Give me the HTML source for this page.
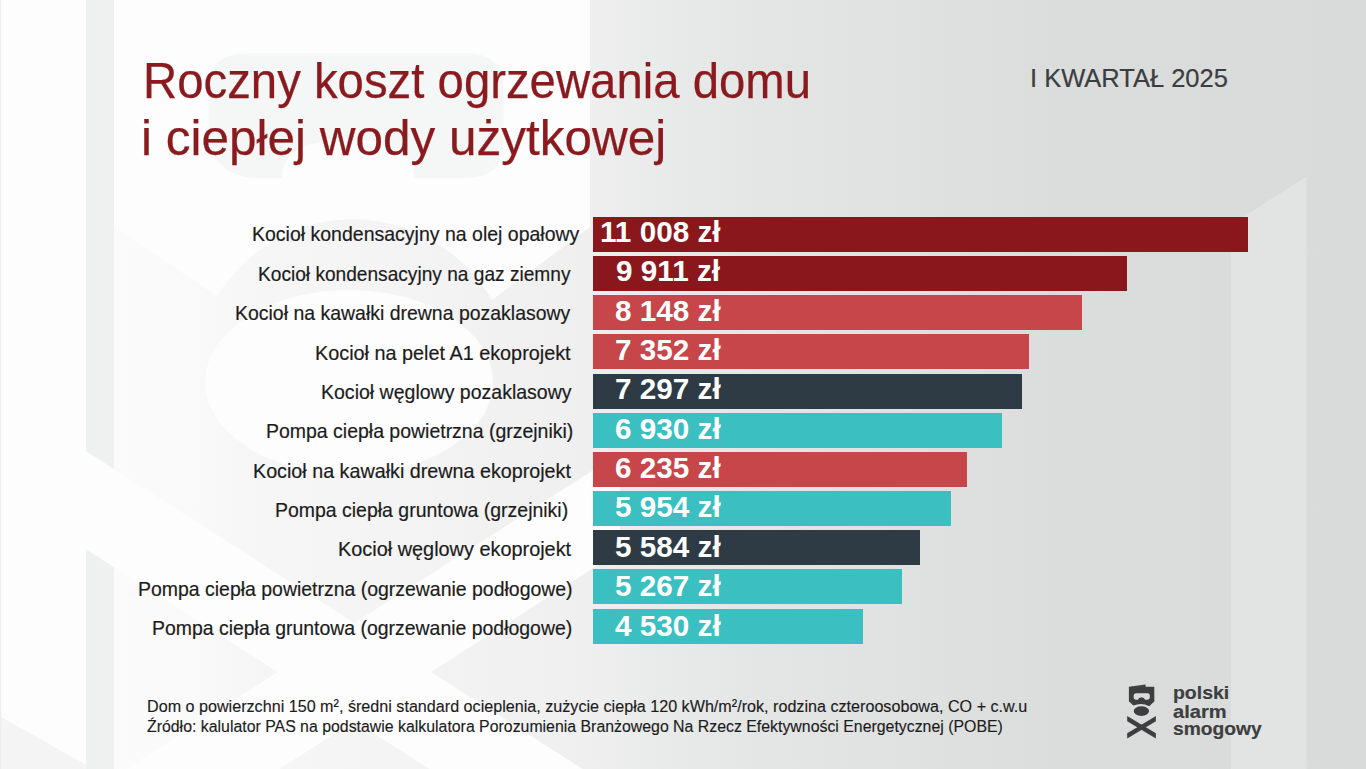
<!DOCTYPE html>
<html><head><meta charset="utf-8">
<style>
html,body{margin:0;padding:0;}
body{width:1366px;height:769px;position:relative;overflow:hidden;font-family:"Liberation Sans",sans-serif;background:#fdfdfd;}
.a{position:absolute;white-space:nowrap;line-height:1;transform-origin:0 0;}
.b{position:absolute;left:593px;height:35px;}
</style></head><body>
<svg style="position:absolute;left:0;top:0" width="1366" height="769">
<defs><linearGradient id="g1" x1="0" x2="1366" y1="0" y2="0" gradientUnits="userSpaceOnUse"><stop offset="0.0000" stop-color="#fbfbfb"/><stop offset="0.0835" stop-color="#fbfbfb"/><stop offset="0.1464" stop-color="#f9f9f9"/><stop offset="0.1903" stop-color="#f6f6f6"/><stop offset="0.2928" stop-color="#f4f4f4"/><stop offset="0.4319" stop-color="#efefef"/><stop offset="0.4832" stop-color="#e9eaea"/><stop offset="0.5600" stop-color="#e4e5e5"/><stop offset="0.7796" stop-color="#dbdcdc"/><stop offset="1.0000" stop-color="#d9dada"/></linearGradient></defs>
<rect x="0" y="0" width="1366" height="769" fill="url(#g1)"/>
<rect x="0" y="0" width="86" height="769" fill="#f4f4f4"/>
<rect x="86" y="0" width="28" height="769" fill="#eff0f0"/>
<polygon points="0,0 86,0 86,764.7 0,716.4" fill="#fdfdfd"/>
<path d="M114,-10 L590,-10 L590,227 L492,300 A163 170 0 0 0 217,296 L114,226.6 Z" fill="#fdfdfd"/>
<path d="M246,53.6 L467,53.6 Q503.6,53.6 503.6,90 L503.6,140 Q503.6,178 466,178 L414,178 Q414,140 348,140 Q282,140 282,178 L260,178 Q208.7,178 208.7,127 L208.7,90 Q208.7,53.6 246,53.6 Z" fill="#f5f6f6"/>
<ellipse cx="349" cy="382" rx="144" ry="92" fill="#fdfdfd"/>
<polygon points="86,451.2 620,792.9 620,890.9 86,549.2" fill="#fdfdfd"/>
<polygon points="86,794.8 620,453 620,551 86,892.8" fill="#fdfdfd"/>
<polygon points="1231,225 1306.5,176.4 1306.5,769 1231,769" fill="#e2e3e3"/>
<rect x="0" y="0" width="1.2" height="769" fill="#eeeeee"/>
</svg>
<div class="b" style="top:216.90px;width:655.0px;background:#8a171b"></div>
<div class="b" style="top:256.06px;width:534.0px;background:#8a171b"></div>
<div class="b" style="top:295.22px;width:489.0px;background:#c64649"></div>
<div class="b" style="top:334.38px;width:436.0px;background:#c64649"></div>
<div class="b" style="top:373.54px;width:429.0px;background:#2e3a44"></div>
<div class="b" style="top:412.70px;width:408.5px;background:#3bbfc0"></div>
<div class="b" style="top:451.86px;width:374.0px;background:#c64649"></div>
<div class="b" style="top:491.02px;width:357.5px;background:#3bbfc0"></div>
<div class="b" style="top:530.18px;width:327.4px;background:#2e3a44"></div>
<div class="b" style="top:569.34px;width:309.2px;background:#3bbfc0"></div>
<div class="b" style="top:608.50px;width:270.0px;background:#3bbfc0"></div>
<div class="a" style="left:142.60px;top:55.70px;font-size:50.03px;font-weight:400;transform:scaleX(0.9462);color:#8b1a1f;-webkit-text-stroke:0.25px #8b1a1f">Roczny koszt ogrzewania domu</div>
<div class="a" style="left:141.40px;top:113.40px;font-size:50.03px;font-weight:400;transform:scaleX(0.9891);color:#8b1a1f;-webkit-text-stroke:0.25px #8b1a1f">i ciepłej wody użytkowej</div>
<div class="a" style="left:1030.10px;top:66.25px;font-size:25.30px;font-weight:400;transform:scaleX(1.0078);color:#3b3d40;-webkit-text-stroke:0.2px #3b3d40">I KWARTAŁ 2025</div>
<div class="a" style="left:251.55px;top:224.40px;font-size:20.97px;font-weight:400;transform:scaleX(0.9299);color:#1c1c1c;-webkit-text-stroke:0.2px #1c1c1c">Kocioł kondensacyjny na olej opałowy</div>
<div class="a" style="left:258.40px;top:264.33px;font-size:20.97px;font-weight:400;transform:scaleX(0.9118);color:#1c1c1c;-webkit-text-stroke:0.2px #1c1c1c">Kocioł kondensacyjny na gaz ziemny</div>
<div class="a" style="left:235.20px;top:303.26px;font-size:20.97px;font-weight:400;transform:scaleX(0.9281);color:#1c1c1c;-webkit-text-stroke:0.2px #1c1c1c">Kocioł na kawałki drewna pozaklasowy</div>
<div class="a" style="left:315.40px;top:343.19px;font-size:20.97px;font-weight:400;transform:scaleX(0.9451);color:#1c1c1c;-webkit-text-stroke:0.2px #1c1c1c">Kocioł na pelet A1 ekoprojekt</div>
<div class="a" style="left:320.50px;top:382.12px;font-size:20.97px;font-weight:400;transform:scaleX(0.9307);color:#1c1c1c;-webkit-text-stroke:0.2px #1c1c1c">Kocioł węglowy pozaklasowy</div>
<div class="a" style="left:265.50px;top:421.05px;font-size:20.97px;font-weight:400;transform:scaleX(0.9284);color:#1c1c1c;-webkit-text-stroke:0.2px #1c1c1c">Pompa ciepła powietrzna (grzejniki)</div>
<div class="a" style="left:253.00px;top:460.98px;font-size:20.97px;font-weight:400;transform:scaleX(0.9405);color:#1c1c1c;-webkit-text-stroke:0.2px #1c1c1c">Kocioł na kawałki drewna ekoprojekt</div>
<div class="a" style="left:274.50px;top:499.91px;font-size:20.97px;font-weight:400;transform:scaleX(0.9281);color:#1c1c1c;-webkit-text-stroke:0.2px #1c1c1c">Pompa ciepła gruntowa (grzejniki)</div>
<div class="a" style="left:337.70px;top:538.84px;font-size:20.97px;font-weight:400;transform:scaleX(0.9480);color:#1c1c1c;-webkit-text-stroke:0.2px #1c1c1c">Kocioł węglowy ekoprojekt</div>
<div class="a" style="left:137.70px;top:578.77px;font-size:20.97px;font-weight:400;transform:scaleX(0.9275);color:#1c1c1c;-webkit-text-stroke:0.2px #1c1c1c">Pompa ciepła powietrzna (ogrzewanie podłogowe)</div>
<div class="a" style="left:152.00px;top:617.70px;font-size:20.97px;font-weight:400;transform:scaleX(0.9267);color:#1c1c1c;-webkit-text-stroke:0.2px #1c1c1c">Pompa ciepła gruntowa (ogrzewanie podłogowe)</div>
<div class="a" style="left:599.60px;top:218.30px;font-size:29.07px;font-weight:700;transform:scaleX(1.0216);color:#ffffff;-webkit-text-stroke:0.0px #ffffff">11 008 zł</div>
<div class="a" style="left:616.10px;top:257.23px;font-size:29.07px;font-weight:700;transform:scaleX(1.0216);color:#ffffff;-webkit-text-stroke:0.0px #ffffff">9 911 zł</div>
<div class="a" style="left:615.10px;top:297.16px;font-size:29.07px;font-weight:700;transform:scaleX(1.0216);color:#ffffff;-webkit-text-stroke:0.0px #ffffff">8 148 zł</div>
<div class="a" style="left:615.10px;top:336.09px;font-size:29.07px;font-weight:700;transform:scaleX(1.0216);color:#ffffff;-webkit-text-stroke:0.0px #ffffff">7 352 zł</div>
<div class="a" style="left:615.10px;top:375.02px;font-size:29.07px;font-weight:700;transform:scaleX(1.0216);color:#ffffff;-webkit-text-stroke:0.0px #ffffff">7 297 zł</div>
<div class="a" style="left:615.10px;top:414.95px;font-size:29.07px;font-weight:700;transform:scaleX(1.0216);color:#ffffff;-webkit-text-stroke:0.0px #ffffff">6 930 zł</div>
<div class="a" style="left:615.10px;top:453.88px;font-size:29.07px;font-weight:700;transform:scaleX(1.0216);color:#ffffff;-webkit-text-stroke:0.0px #ffffff">6 235 zł</div>
<div class="a" style="left:615.10px;top:492.81px;font-size:29.07px;font-weight:700;transform:scaleX(1.0216);color:#ffffff;-webkit-text-stroke:0.0px #ffffff">5 954 zł</div>
<div class="a" style="left:615.10px;top:532.74px;font-size:29.07px;font-weight:700;transform:scaleX(1.0216);color:#ffffff;-webkit-text-stroke:0.0px #ffffff">5 584 zł</div>
<div class="a" style="left:615.10px;top:571.67px;font-size:29.07px;font-weight:700;transform:scaleX(1.0216);color:#ffffff;-webkit-text-stroke:0.0px #ffffff">5 267 zł</div>
<div class="a" style="left:615.10px;top:611.60px;font-size:29.07px;font-weight:700;transform:scaleX(1.0216);color:#ffffff;-webkit-text-stroke:0.0px #ffffff">4 530 zł</div>
<div class="a" style="left:147.20px;top:698.10px;font-size:17.05px;font-weight:400;transform:scaleX(0.9475);color:#1c1c1c;-webkit-text-stroke:0.15px #1c1c1c">Dom o powierzchni 150 m², średni standard ocieplenia, zużycie ciepła 120 kWh/m²/rok, rodzina czteroosobowa, CO + c.w.u</div>
<div class="a" style="left:147.00px;top:718.20px;font-size:17.05px;font-weight:400;transform:scaleX(0.9314);color:#1c1c1c;-webkit-text-stroke:0.15px #1c1c1c">Źródło: kalulator PAS na podstawie kalkulatora Porozumienia Branżowego Na Rzecz Efektywności Energetycznej (POBE)</div>
<div class="a" style="left:1172.90px;top:683.00px;font-size:19.04px;font-weight:700;transform:scaleX(1.0209);color:#3d3e40;-webkit-text-stroke:0.2px #3d3e40">polski</div>
<div class="a" style="left:1173.30px;top:701.80px;font-size:19.04px;font-weight:700;transform:scaleX(1.0559);color:#3d3e40;-webkit-text-stroke:0.2px #3d3e40">alarm</div>
<div class="a" style="left:1173.30px;top:719.40px;font-size:19.04px;font-weight:700;transform:scaleX(1.0107);color:#3d3e40;-webkit-text-stroke:0.2px #3d3e40">smogowy</div>
<svg style="position:absolute;left:1122px;top:680px" width="40" height="62" viewBox="0 0 40 62">
<path d="M6.9 6.7 L23.6 4.4 L23.6 6.7 L32.3 6.7 L32.3 21.4 L27.2 26.3 Q19.5 22.0 11.3 25.6 L6.9 21.2 Z M14.2 13.3 L25.4 13.3 Q27.9 13.3 27.9 16.3 Q27.9 19.8 25.0 19.8 L23.2 19.8 Q22.3 17.3 19.5 17.3 Q16.7 17.3 15.8 19.8 L14.2 19.8 Q11.6 19.8 11.6 16.5 Q11.6 13.3 14.2 13.3 Z" fill="#3d3e40" fill-rule="evenodd"/>
<ellipse cx="19.4" cy="31.1" rx="7.7" ry="4.8" fill="#3d3e40"/>
<polygon points="5.2,36.1 33.9,53.3 33.9,58.4 5.2,41.2" fill="#3d3e40"/>
<polygon points="5.2,53.3 33.9,36.1 33.9,41.2 5.2,58.4" fill="#3d3e40"/>
</svg>
</body></html>
